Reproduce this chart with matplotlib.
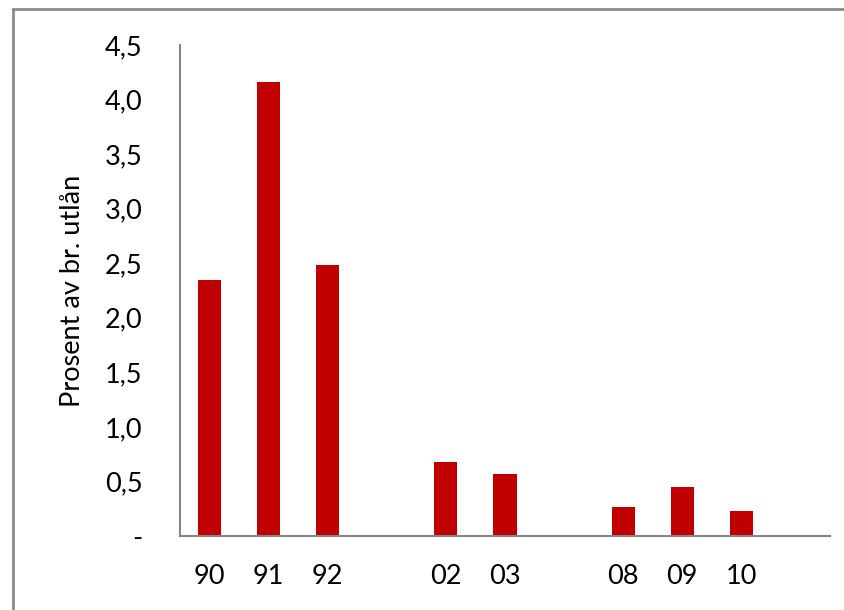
import numpy as np
import matplotlib.pyplot as plt
from matplotlib.lines import Line2D

years = ['90', '91', '92', '', '02', '03', '', '08', '09', '10', '']
losses = [2.35, 4.16, 2.48, np.nan, 0.68, 0.57, np.nan, 0.27, 0.45, 0.23, np.nan]
yticks = [0, 0.5, 1.0, 1.5, 2.0, 2.5, 3.0, 3.5, 4.0, 4.5]
ytick_labels = ['-', '0,5', '1,0', '1,5', '2,0', '2,5', '3,0', '3,5', '4,0', '4,5']

plt.rcParams['font.family'] = ['Lato', 'DejaVu Sans']
axis_grey = '#868686'

fig = plt.figure(figsize=(8.45, 6.10), dpi=100)
ax = fig.add_axes([180/845, 1 - 536/610, 650/845, (536 - 45)/610])

x = np.arange(len(years))
ax.bar(x, losses, width=0.39, color='#c00000')
ax.set_xlim(-0.5, len(years) - 0.5)
ax.set_ylim(0, 4.5)
ax.set_xticks(x)
ax.set_xticklabels(years)
ax.set_yticks(yticks)
ax.set_yticklabels(ytick_labels)
ax.tick_params(axis='both', length=0, labelsize=19.5)
ax.tick_params(axis='x', pad=20)
ax.tick_params(axis='y', pad=27)
ax.set_ylabel('Prosent av br. utlån', fontsize=19.5, labelpad=14)

for side in ['top', 'right']:
    ax.spines[side].set_visible(False)
for side in ['left', 'bottom']:
    ax.spines[side].set_color(axis_grey)
    ax.spines[side].set_linewidth(1.5)

# chart frame, only its top and left edges are inside the picture
fig.add_artist(Line2D([13/845, 1], [1 - 9/610, 1 - 9/610], color='#8c8c8c', lw=2))
fig.add_artist(Line2D([13/845, 13/845], [0, 1 - 9/610], color='#8c8c8c', lw=2))

fig.savefig('out.png', dpi=100)
